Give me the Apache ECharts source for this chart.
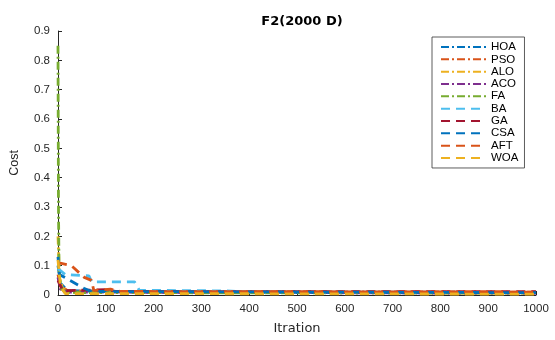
<!DOCTYPE html>
<html><head><meta charset="utf-8">
<script src="https://cdn.jsdelivr.net/npm/echarts@6/dist/echarts.min.js"></script>
<style>html,body{margin:0;padding:0;background:#fff}#c{width:555px;height:340px}</style>
</head><body><div id="c"></div>
<script>
const names = ['HOA','PSO','ALO','ACO','FA','BA','GA','CSA','AFT','WOA'];
const xTicks = [0,100,200,300,400,500,600,700,800,900,1000];
const yTicks = [0,0.1,0.2,0.3,0.4,0.5,0.6,0.7,0.8,0.9];
// [iteration, cost]
const hoa = [[0,0.10],[5,0.04],[20,0.015],[200,0.009],[1000,0.007]];
const pso = [[0,0.07],[5,0.03],[20,0.015],[100,0.012],[1000,0.010]];
const alo = [[0,0.20],[3,0.06],[10,0.02],[30,0.01],[1000,0.006]];
const aco = [[0,0.06],[5,0.02],[20,0.01],[1000,0.006]];
const fa  = [[0,0.85],[1,0.30],[2,0.12],[4,0.05],[8,0.02],[15,0.01],[50,0.008],[1000,0.007]];
const ba  = [[0,0.09],[15,0.07],[65,0.065],[70,0.045],[160,0.045],[170,0.016],[350,0.014],[400,0.010],[1000,0.009]];
const ga  = [[0,0.05],[10,0.015],[100,0.018],[120,0.012],[1000,0.011]];
const csa = [[0,0.13],[3,0.07],[6,0.065],[54,0.023],[70,0.012],[1000,0.008]];
const aft = [[0,0.11],[28,0.10],[32,0.094],[55,0.06],[70,0.05],[75,0.015],[110,0.02],[130,0.012],[1000,0.010]];
const woa = [[0,0.12],[5,0.03],[15,0.005],[1000,0.003]];

const dataSets = [hoa,pso,alo,aco,fa,ba,ga,csa,aft,woa];
const colors = ['#0072BD','#D95319','#EDB120','#7E2F8E','#77AC30','#4DBEEE','#A2142F','#0072BD','#D95319','#EDB120'];
const dashDot = [8,3,2,3];
const dashed = [9,6];
const styles = [dashDot,dashDot,dashDot,dashDot,dashDot,dashed,dashed,dashed,dashed,dashed];
const FONT = 'Liberation Sans, Arial, Helvetica, sans-serif';
const WIDE = 'DejaVu Sans, sans-serif';

const chart = echarts.init(document.getElementById('c'), null, {renderer:'canvas'});
chart.setOption({
  animation:false,
  backgroundColor:'#fff',
  title:{text:'F2(2000 D)',left:297,top:10,textAlign:'center',
    textStyle:{fontFamily:WIDE,fontSize:13,fontWeight:'bold',color:'#000'}},
  legend:{orient:'vertical',left:432,top:37,width:90,
    padding:[4,6,4,8],itemGap:0.33,itemWidth:45,itemHeight:10,
    borderColor:'#333',borderWidth:0.8,backgroundColor:'#fff',
    itemStyle:{opacity:0},
    data:names,
    textStyle:{fontFamily:FONT,fontSize:11.5,color:'#000',lineHeight:12}},
  grid:{left:58,right:19,top:31,bottom:35},
  xAxis:{type:'value',min:0,max:1000,interval:100,
    name:'Itration',nameLocation:'middle',nameGap:27,
    nameTextStyle:{fontFamily:WIDE,fontSize:13,color:'#262626'},
    axisLine:{lineStyle:{color:'#262626',width:1}},
    axisTick:{inside:true,length:4,lineStyle:{color:'#262626'}},
    axisLabel:{fontFamily:FONT,fontSize:11.5,color:'#262626',margin:8,
      formatter:v=>String(v)},
    splitLine:{show:false}},
  yAxis:{type:'value',min:0,max:0.9,interval:0.1,
    name:'Cost',nameLocation:'middle',nameGap:37,
    nameTextStyle:{fontFamily:FONT,fontSize:12.5,color:'#262626'},
    axisLine:{show:true,lineStyle:{color:'#262626',width:1}},
    axisTick:{show:true,inside:true,length:4,lineStyle:{color:'#262626'}},
    axisLabel:{fontFamily:FONT,fontSize:11.5,color:'#262626',margin:8,
      formatter:v=>String(Math.round(v*10)/10)},
    splitLine:{show:false}},
  series:names.map((n,i)=>({
    name:n,type:'line',data:dataSets[i],symbol:'none',
    color:colors[i],
    lineStyle:{color:colors[i],width:2.8,type:styles[i]},
    z:2+i
  }))
});
</script></body></html>
